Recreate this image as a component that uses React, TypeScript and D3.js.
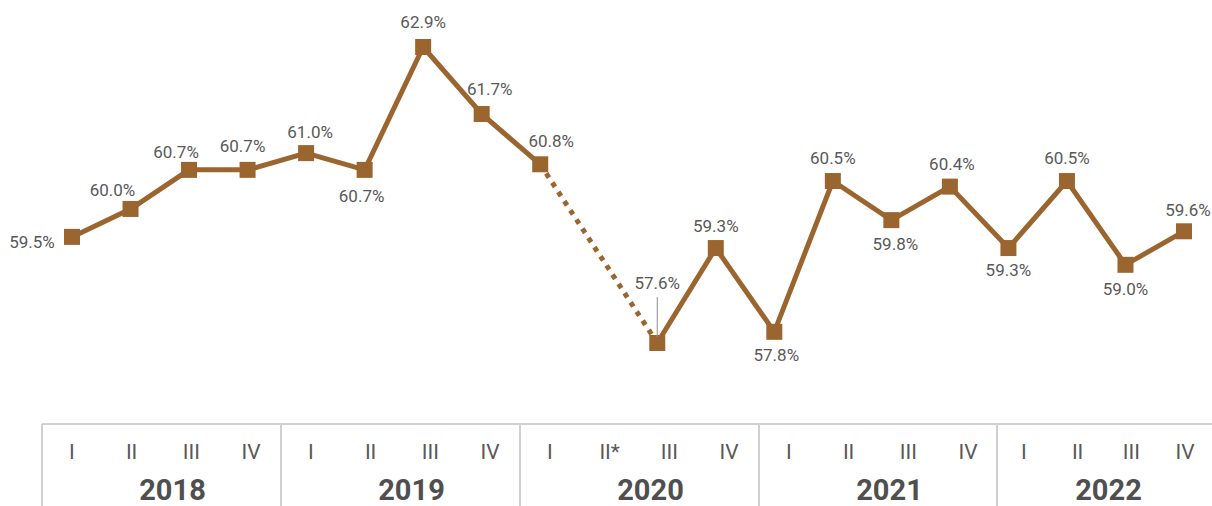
import { useRef, useEffect } from 'react';
import * as d3 from 'd3';

const years = ['2018', '2019', '2020', '2021', '2022'];
const quarterNames = ['I', 'II', 'III', 'IV'];
const quarterLabels = [
  'I', 'II', 'III', 'IV',
  'I', 'II', 'III', 'IV',
  'I', 'II*', 'III', 'IV',
  'I', 'II', 'III', 'IV',
  'I', 'II', 'III', 'IV',
];
// null = no survey (2020 II*)
const values: (number | null)[] = [
  59.5, 60.0, 60.7, 60.7,
  61.0, 60.7, 62.9, 61.7,
  60.8, null, 57.6, 59.3,
  57.8, 60.5, 59.8, 60.4,
  59.3, 60.5, 59.0, 59.6,
];

// label placement relative to the marker
const labelPlace: [number, number][] = [
  [-40, 5], [-18, -19], [-13, -18], [-5, -24],
  [4, -21], [-3, 26], [0, -25], [8, -25],
  [11, -23], [0, 0], [0, -60], [0, -22],
  [2, 23], [0, -23], [4, 24], [2, -23],
  [0, 22], [0, -23], [0, 24], [4, -21],
];

const W = 1212;
const H = 506;
const BROWN = '#9b6530';
const TEXT = '#595959';
const FONT = 'Roboto, "Noto Sans", sans-serif';

export default function App() {
  const svgRef = useRef<SVGSVGElement>(null);

  useEffect(() => {
    const svg = d3.select(svgRef.current);
    svg.selectAll('*').remove();

    const keys = quarterLabels.map((_, i) => `q${i}`);
    const x = d3.scalePoint<string>().domain(keys).range([72, 1184]);
    const y = d3.scaleLinear().domain([57.6, 62.9]).range([343, 47]);

    const pts = values.map((v, i) => ({ k: keys[i], v, i }));
    const line = d3.line<{ k: string; v: number | null }>()
      .defined(d => d.v !== null)
      .x(d => x(d.k)!)
      .y(d => y(d.v as number));

    // dotted connector across missing quarter
    const gapIdx = values.findIndex(v => v === null);
    const gap = [pts[gapIdx - 1], pts[gapIdx + 1]];
    svg.append('path').datum(gap)
      .attr('d', d3.line<{ k: string; v: number | null }>().x(d => x(d.k)!).y(d => y(d.v as number)))
      .attr('fill', 'none').attr('stroke', BROWN).attr('stroke-width', 5)
      .attr('stroke-dasharray', '5,6');

    svg.append('path').datum(pts)
      .attr('d', line).attr('fill', 'none')
      .attr('stroke', BROWN).attr('stroke-width', 5).attr('stroke-linejoin', 'miter');

    const valid = pts.filter(p => p.v !== null);
    svg.selectAll('rect.m').data(valid).enter().append('rect')
      .attr('x', d => x(d.k)! - 8).attr('y', d => y(d.v as number) - 8)
      .attr('width', 16).attr('height', 16).attr('fill', BROWN);

    // leader line for 57.6%
    const lp = pts[gapIdx + 1];
    svg.append('line')
      .attr('x1', x(lp.k)!).attr('x2', x(lp.k)!)
      .attr('y1', y(lp.v as number) - 46).attr('y2', y(lp.v as number) - 6)
      .attr('stroke', '#8c8c8c').attr('stroke-width', 1);

    svg.selectAll('text.v').data(valid).enter().append('text')
      .attr('x', d => x(d.k)! + labelPlace[d.i][0])
      .attr('y', d => y(d.v as number) + labelPlace[d.i][1] + 6)
      .attr('text-anchor', 'middle')
      .attr('font-family', FONT).attr('font-size', 17).attr('font-weight', 400)
      .attr('fill', TEXT)
      .text(d => `${(d.v as number).toFixed(1)}%`);

    // category axis
    const axisY = 424;
    const yearBand = d3.scaleBand<string>().domain(years.slice(0, 4)).range([42, 998]);
    const yearStart = (yr: string, i: number) => (i < 4 ? yearBand(yr)! : 997);
    const yearWidth = (i: number) => (i < 4 ? yearBand.bandwidth() : W - 997);

    svg.append('line').attr('x1', 42).attr('x2', W).attr('y1', axisY).attr('y2', axisY)
      .attr('stroke', '#d0d0d0').attr('stroke-width', 2);

    years.forEach((yr, yi) => {
      const x0 = yearStart(yr, yi);
      const w = yearWidth(yi);
      svg.append('line').attr('x1', x0).attr('x2', x0).attr('y1', axisY).attr('y2', H)
        .attr('stroke', '#d0d0d0').attr('stroke-width', 2);
      const qx = d3.scaleBand<string>().domain(quarterNames).range([x0, x0 + w]);
      quarterNames.forEach((q, qi) => {
        svg.append('text')
          .attr('x', qx(q)! + qx.bandwidth() / 2).attr('y', 459)
          .attr('text-anchor', 'middle')
          .attr('font-family', FONT).attr('font-size', 21).attr('font-weight', 400)
          .attr('fill', TEXT)
          .text(quarterLabels[yi * 4 + qi]);
      });
      svg.append('text')
        .attr('x', x0 + w / 2 + (yi < 4 ? 11 : 4)).attr('y', 500)
        .attr('text-anchor', 'middle')
        .attr('font-family', FONT).attr('font-size', 29).attr('font-weight', 'bold')
        .attr('fill', '#4f4f4f')
        .text(yr);
    });
  }, []);

  return (
    <svg ref={svgRef} width={W} height={H}
      style={{ position: 'absolute', left: 0, top: 0, display: 'block', background: '#fff' }} />
  );
}
